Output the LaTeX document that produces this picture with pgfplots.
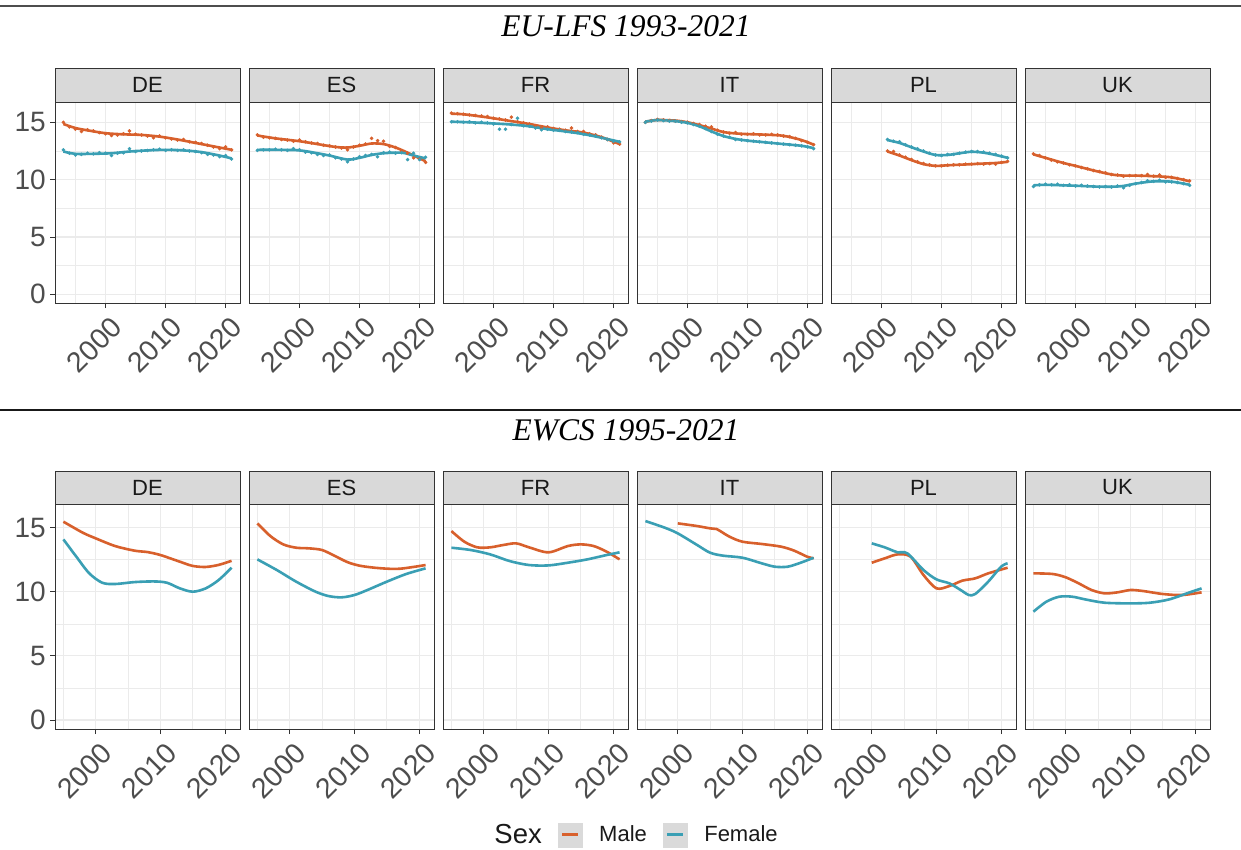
\documentclass[border=0pt]{standalone}
\usepackage{pgfplots}
\pgfplotsset{compat=1.18}
\usepackage{fontspec}
\setmainfont{Liberation Sans}
\newfontfamily\titlefont{Liberation Serif}

\definecolor{male}{HTML}{D8602C}
\definecolor{female}{HTML}{3A9FB4}
\definecolor{grid92}{HTML}{EBEBEB}
\definecolor{grey20}{HTML}{333333}
\definecolor{grey30}{HTML}{4D4D4D}
\definecolor{stripbg}{HTML}{D9D9D9}
\definecolor{keybg}{HTML}{DADADA}

\pgfplotsset{
  facet/.style={
    scale only axis, width=185pt, anchor=north west,
    axis background/.style={fill=white},
    axis line style={draw=grey20, line width=0.9pt},
    xmajorgrids, ymajorgrids, xminorgrids, yminorgrids,
    major grid style={draw=grid92, line width=1.1pt},
    minor grid style={draw=grid92, line width=0.6pt},
    xtick={2000,2010,2020}, xticklabels={2000,2010,2020},
    minor xtick={1995,2005,2015},
    ytick={0,5,10,15}, minor ytick={2.5,7.5,12.5},
    tick align=outside, tick pos=left,
    major tick length=5pt, minor tick length=0pt,
    tick style={draw=grey20, line width=0.9pt},
    xticklabel style={rotate=45, anchor=north east, inner sep=0pt,
      xshift=-2pt, yshift=-8pt, font=\fontsize{28.5}{28.5}\selectfont, text=grey30},
    yticklabel style={inner sep=0pt, xshift=-4pt,
      font=\fontsize{28}{28}\selectfont, text=grey30},
    yticklabels={},
    ytick style={draw=none},
  },
  first/.style={yticklabels={0,5,10,15}, ytick style={draw=grey20}},
  top/.style={facet, height=201pt, xmin=1991.6, xmax=2022.4, ymin=-0.76, ymax=16.77},
  bot/.style={facet, height=225pt, xmin=1993.7, xmax=2022.3, ymin=-0.70, ymax=16.85},
  mline/.style={draw=male, line width=2.6pt, smooth, no markers, forget plot},
  fline/.style={draw=female, line width=2.6pt, smooth, no markers, forget plot},
  mdot/.style={only marks, mark=*, mark size=1.6pt, color=male, forget plot},
  fdot/.style={only marks, mark=*, mark size=1.6pt, color=female, forget plot},
}

\newcommand{\strip}[3]{%
  \draw[draw=grey20, fill=stripbg, line width=0.9pt] (#1.north west) rectangle ([yshift=#3]#1.north east);
  \node[font=\fontsize{22}{22}\selectfont, text=black!90] at ([yshift=#3/2]#1.north) {#2};
}

\begin{document}
\begin{tikzpicture}
\useasboundingbox (0pt,0pt) rectangle (1241pt,-850pt);

\draw[draw=grey30, line width=2pt] (0pt,-6pt) -- (1241pt,-6pt);
\node[font=\titlefont\itshape\fontsize{31.5}{31.5}\selectfont, anchor=base] at (626pt,-37pt) {EU-LFS 1993-2021};
\draw[draw=black!90, line width=1.4pt] (0pt,-410pt) -- (1241pt,-410pt);
\node[font=\titlefont\itshape\fontsize{31.5}{31.5}\selectfont, anchor=base] at (626pt,-440pt) {EWCS 1995-2021};

% ---------------- EU-LFS ----------------
\begin{axis}[top, first, name=tDE, at={(55pt,-102pt)}]
\addplot[mdot] coordinates {(1993,15.0)(1994,14.6)(1995,14.4)(1996,14.2)(1997,14.35)(1998,14.25)(1999,14.1)(2000,14.0)(2001,13.85)(2002,13.9)(2003,14.0)(2004,14.25)(2005,13.95)(2006,13.9)(2007,13.8)(2008,13.65)(2009,13.8)(2010,13.65)(2011,13.55)(2012,13.45)(2013,13.5)(2014,13.3)(2015,13.25)(2016,13.15)(2017,13.0)(2018,12.85)(2019,12.7)(2020,12.85)(2021,12.6)};
\addplot[fdot] coordinates {(1993,12.6)(1994,12.3)(1995,12.15)(1996,12.2)(1997,12.3)(1998,12.25)(1999,12.35)(2000,12.3)(2001,12.1)(2002,12.3)(2003,12.35)(2004,12.7)(2005,12.45)(2006,12.5)(2007,12.55)(2008,12.6)(2009,12.65)(2010,12.55)(2011,12.6)(2012,12.55)(2013,12.6)(2014,12.5)(2015,12.45)(2016,12.35)(2017,12.2)(2018,12.15)(2019,12.0)(2020,12.1)(2021,11.8)};
\addplot[mline] coordinates {(1993,14.85)(1995,14.5)(1997,14.3)(2000,14.05)(2003,13.95)(2006,13.9)(2009,13.75)(2012,13.5)(2015,13.2)(2018,12.9)(2021,12.6)};
\addplot[fline] coordinates {(1993,12.45)(1995,12.25)(1998,12.25)(2001,12.3)(2004,12.45)(2007,12.55)(2010,12.6)(2013,12.55)(2016,12.4)(2019,12.1)(2021,11.85)};
\end{axis}

\begin{axis}[top, name=tES, at={(249pt,-102pt)}]
\addplot[mdot] coordinates {(1993,13.9)(1994,13.7)(1995,13.65)(1996,13.6)(1997,13.5)(1998,13.45)(1999,13.35)(2000,13.45)(2001,13.3)(2002,13.2)(2003,13.15)(2004,13.0)(2005,12.95)(2006,12.85)(2007,12.75)(2008,12.6)(2009,12.85)(2010,13.0)(2011,13.1)(2012,13.6)(2013,13.4)(2014,13.35)(2015,12.9)(2016,12.8)(2017,12.5)(2018,12.3)(2019,11.9)(2020,11.8)(2021,11.5)};
\addplot[fdot] coordinates {(1993,12.55)(1994,12.6)(1995,12.6)(1996,12.65)(1997,12.6)(1998,12.55)(1999,12.7)(2000,12.6)(2001,12.4)(2002,12.35)(2003,12.2)(2004,12.1)(2005,12.15)(2006,11.9)(2007,11.8)(2008,11.55)(2009,11.8)(2010,12.0)(2011,12.1)(2012,12.2)(2013,12.0)(2014,12.35)(2015,12.4)(2016,12.3)(2017,12.35)(2018,11.75)(2019,12.3)(2020,11.75)(2021,11.95)};
\addplot[mline] coordinates {(1993,13.85)(1996,13.6)(2000,13.35)(2003,13.1)(2006,12.85)(2008,12.8)(2010,12.95)(2012,13.15)(2014,13.1)(2016,12.8)(2018,12.35)(2021,11.6)};
\addplot[fline] coordinates {(1993,12.6)(1996,12.6)(2000,12.55)(2003,12.3)(2005,12.1)(2008,11.75)(2010,11.9)(2012,12.15)(2014,12.3)(2017,12.35)(2019,12.1)(2021,11.85)};
\end{axis}

\begin{axis}[top, name=tFR, at={(443pt,-102pt)}]
\addplot[mdot] coordinates {(1993,15.8)(1994,15.75)(1995,15.7)(1996,15.65)(1997,15.6)(1998,15.55)(1999,15.5)(2000,15.35)(2001,15.3)(2002,15.2)(2003,15.45)(2004,15.05)(2005,14.95)(2006,14.85)(2007,14.7)(2008,14.5)(2009,14.6)(2010,14.45)(2011,14.4)(2012,14.3)(2013,14.5)(2014,14.2)(2015,14.2)(2016,14.0)(2017,13.9)(2018,13.7)(2019,13.5)(2020,13.2)(2021,13.1)};
\addplot[fdot] coordinates {(1993,15.05)(1994,15.05)(1995,15.0)(1996,15.05)(1997,14.95)(1998,15.0)(1999,14.95)(2000,14.85)(2001,14.4)(2002,14.4)(2003,14.8)(2004,15.35)(2005,14.7)(2006,14.65)(2007,14.5)(2008,14.35)(2009,14.4)(2010,14.3)(2011,14.3)(2012,14.2)(2013,14.15)(2014,14.1)(2015,13.95)(2016,13.9)(2017,13.8)(2018,13.65)(2019,13.5)(2020,13.35)(2021,13.3)};
\addplot[mline] coordinates {(1993,15.75)(1995,15.7)(1998,15.5)(2000,15.35)(2003,15.1)(2006,14.85)(2009,14.55)(2012,14.3)(2015,14.1)(2018,13.7)(2021,13.1)};
\addplot[fline] coordinates {(1993,15.05)(1996,15.0)(2000,14.9)(2003,14.8)(2006,14.65)(2009,14.4)(2012,14.2)(2015,13.97)(2018,13.65)(2021,13.3)};
\end{axis}

\begin{axis}[top, name=tIT, at={(637pt,-102pt)}]
\addplot[mdot] coordinates {(1993,15.0)(1994,15.15)(1995,15.25)(1996,15.2)(1997,15.15)(1998,15.1)(1999,15.05)(2000,15.0)(2001,14.9)(2002,14.8)(2003,14.65)(2004,14.6)(2005,14.3)(2006,14.15)(2007,14.05)(2008,14.1)(2009,13.95)(2010,13.95)(2011,14.0)(2012,13.9)(2013,13.9)(2014,13.95)(2015,13.9)(2016,13.8)(2017,13.75)(2018,13.6)(2019,13.4)(2020,13.25)(2021,13.05)};
\addplot[fdot] coordinates {(1993,15.0)(1994,15.1)(1995,15.2)(1996,15.15)(1997,15.1)(1998,15.1)(1999,15.0)(2000,14.95)(2001,14.8)(2002,14.65)(2003,14.45)(2004,14.2)(2005,13.95)(2006,13.8)(2007,13.7)(2008,13.5)(2009,13.45)(2010,13.4)(2011,13.35)(2012,13.3)(2013,13.25)(2014,13.2)(2015,13.15)(2016,13.1)(2017,13.05)(2018,13.0)(2019,12.95)(2020,12.85)(2021,12.7)};
\addplot[mline] coordinates {(1993,15.05)(1995,15.2)(1998,15.15)(2000,15.0)(2002,14.75)(2004,14.45)(2006,14.15)(2008,14.03)(2010,13.97)(2013,13.92)(2016,13.82)(2019,13.45)(2021,13.05)};
\addplot[fline] coordinates {(1993,15.05)(1995,15.2)(1998,15.1)(2000,14.95)(2002,14.65)(2004,14.2)(2006,13.8)(2008,13.55)(2010,13.4)(2013,13.25)(2016,13.1)(2019,12.95)(2021,12.75)};
\end{axis}

\begin{axis}[top, name=tPL, at={(831pt,-102pt)}]
\addplot[mdot] coordinates {(2001,12.5)(2002,12.45)(2003,12.15)(2004,11.95)(2005,11.75)(2006,11.55)(2007,11.4)(2008,11.3)(2009,11.2)(2010,11.2)(2011,11.25)(2012,11.3)(2013,11.3)(2014,11.35)(2015,11.35)(2016,11.4)(2017,11.35)(2018,11.4)(2019,11.35)(2020,11.5)(2021,11.6)};
\addplot[fdot] coordinates {(2001,13.5)(2002,13.35)(2003,13.3)(2004,13.05)(2005,12.85)(2006,12.7)(2007,12.5)(2008,12.3)(2009,12.15)(2010,12.1)(2011,12.2)(2012,12.2)(2013,12.3)(2014,12.4)(2015,12.45)(2016,12.45)(2017,12.4)(2018,12.3)(2019,12.2)(2020,12.05)(2021,11.9)};
\addplot[mline] coordinates {(2001,12.45)(2003,12.1)(2005,11.7)(2007,11.35)(2009,11.2)(2011,11.25)(2013,11.3)(2015,11.35)(2017,11.4)(2019,11.45)(2021,11.55)};
\addplot[fline] coordinates {(2001,13.45)(2003,13.2)(2005,12.82)(2007,12.45)(2009,12.15)(2011,12.15)(2013,12.3)(2015,12.43)(2017,12.35)(2019,12.15)(2021,11.9)};
\end{axis}

\begin{axis}[top, name=tUK, at={(1025pt,-102pt)}]
\addplot[mdot] coordinates {(1993,12.25)(1994,12.1)(1995,11.9)(1996,11.7)(1997,11.55)(1998,11.45)(1999,11.3)(2000,11.2)(2001,11.05)(2002,10.95)(2003,10.8)(2004,10.7)(2005,10.6)(2006,10.45)(2007,10.4)(2008,10.3)(2009,10.35)(2010,10.35)(2011,10.35)(2012,10.45)(2013,10.3)(2014,10.4)(2015,10.2)(2016,10.2)(2017,10.1)(2018,10.0)(2019,9.9)};
\addplot[fdot] coordinates {(1993,9.4)(1994,9.55)(1995,9.6)(1996,9.55)(1997,9.6)(1998,9.5)(1999,9.55)(2000,9.45)(2001,9.5)(2002,9.45)(2003,9.4)(2004,9.35)(2005,9.4)(2006,9.35)(2007,9.45)(2008,9.3)(2009,9.5)(2010,9.65)(2011,9.75)(2012,9.9)(2013,9.85)(2014,9.95)(2015,9.8)(2016,9.8)(2017,9.75)(2018,9.65)(2019,9.5)};
\addplot[mline] coordinates {(1993,12.2)(1995,11.9)(1998,11.45)(2000,11.2)(2003,10.8)(2006,10.45)(2008,10.35)(2010,10.35)(2013,10.3)(2016,10.2)(2019,9.85)};
\addplot[fline] coordinates {(1993,9.5)(1995,9.55)(1998,9.5)(2000,9.47)(2003,9.4)(2006,9.38)(2008,9.45)(2010,9.65)(2013,9.85)(2016,9.82)(2019,9.55)};
\end{axis}

% ---------------- EWCS ----------------
\begin{axis}[bot, first, name=bDE, at={(55pt,-504pt)}]
\addplot[mline] coordinates {(1995,15.47)(1998,14.61)(2000,14.17)(2003,13.57)(2006,13.21)(2008,13.1)(2010,12.87)(2013,12.35)(2015,12.02)(2017,11.94)(2019,12.1)(2021,12.42)};
\addplot[fline] coordinates {(1995,14.09)(1997,12.74)(1999,11.44)(2001,10.71)(2003,10.61)(2006,10.76)(2009,10.81)(2011,10.71)(2013,10.27)(2015,10.01)(2017,10.27)(2019,10.92)(2021,11.88)};
\end{axis}

\begin{axis}[bot, name=bES, at={(249pt,-504pt)}]
\addplot[mline] coordinates {(1995,15.34)(1997,14.35)(1999,13.7)(2001,13.44)(2003,13.39)(2005,13.26)(2007,12.79)(2009,12.3)(2011,12.02)(2014,11.84)(2017,11.8)(2021,12.09)};
\addplot[fline] coordinates {(1995,12.53)(1998,11.7)(2001,10.79)(2004,10.01)(2006,9.67)(2008,9.57)(2010,9.75)(2012,10.14)(2015,10.79)(2018,11.39)(2021,11.83)};
\end{axis}

\begin{axis}[bot, name=bFR, at={(443pt,-504pt)},
  legend style={at={(1.003,-0.470)}, anchor=center, draw=none, fill=none,
    legend columns=3, font=\fontsize{22}{22}\selectfont, text=black!90,
    nodes={inner sep=2pt},
    /tikz/every odd column/.append style={column sep=15pt},
    /tikz/every even column/.append style={column sep=14pt}},
  legend cell align=left]
\addplot[mline] coordinates {(1995,14.74)(1997,13.91)(1999,13.47)(2001,13.47)(2003,13.65)(2005,13.78)(2007,13.47)(2010,13.08)(2013,13.57)(2015,13.7)(2017,13.57)(2019,13.13)(2021,12.53)};
\addplot[fline] coordinates {(1995,13.44)(1998,13.26)(2001,12.92)(2004,12.4)(2007,12.09)(2010,12.06)(2013,12.27)(2016,12.53)(2019,12.87)(2021,13.08)};
\addlegendimage{empty legend}
\addlegendentry{\fontsize{27.5}{27.5}\selectfont Sex}
\addlegendimage{legend image code/.code={\fill[keybg] (0pt,-12pt) rectangle (24pt,12pt); \draw[male, line width=2.6pt] (4pt,0pt) -- (20pt,0pt);}}
\addlegendentry{Male}
\addlegendimage{legend image code/.code={\fill[keybg] (0pt,-12pt) rectangle (24pt,12pt); \draw[female, line width=2.6pt] (4pt,0pt) -- (20pt,0pt);}}
\addlegendentry{Female}
\end{axis}

\begin{axis}[bot, name=bIT, at={(637pt,-504pt)}]
\addplot[mline] coordinates {(2000,15.34)(2003,15.13)(2005,14.95)(2006,14.9)(2008,14.3)(2010,13.91)(2013,13.73)(2016,13.52)(2018,13.21)(2020,12.74)(2021,12.61)};
\addplot[fline] coordinates {(1995,15.52)(1998,15.0)(2000,14.56)(2003,13.65)(2005,13.05)(2007,12.82)(2010,12.66)(2013,12.22)(2015,11.96)(2017,11.96)(2019,12.27)(2021,12.66)};
\end{axis}

\begin{axis}[bot, name=bPL, at={(831pt,-504pt)}]
\addplot[mline] coordinates {(2000,12.27)(2002,12.61)(2004,12.92)(2006,12.74)(2008,11.31)(2010,10.27)(2012,10.45)(2014,10.87)(2016,11.05)(2018,11.44)(2021,11.88)};
\addplot[fline] coordinates {(2000,13.78)(2002,13.47)(2004,13.08)(2005.5,13.0)(2008,11.7)(2010,10.97)(2012,10.66)(2014,10.06)(2015,9.75)(2016,9.83)(2018,10.79)(2020,11.96)(2021,12.22)};
\end{axis}

\begin{axis}[bot, name=bUK, at={(1025pt,-504pt)}]
\addplot[mline] coordinates {(1995,11.44)(1998,11.39)(2000,11.13)(2002,10.66)(2004,10.14)(2006,9.88)(2008,9.96)(2010,10.14)(2012,10.06)(2015,9.83)(2018,9.75)(2021,9.96)};
\addplot[fline] coordinates {(1995,8.45)(1997,9.23)(1999,9.62)(2001,9.62)(2003,9.41)(2006,9.15)(2010,9.1)(2013,9.15)(2016,9.41)(2019,9.93)(2021,10.27)};
\end{axis}

\strip{tDE}{DE}{34pt}\strip{tES}{ES}{34pt}\strip{tFR}{FR}{34pt}
\strip{tIT}{IT}{34pt}\strip{tPL}{PL}{34pt}\strip{tUK}{UK}{34pt}
\strip{bDE}{DE}{33pt}\strip{bES}{ES}{33pt}\strip{bFR}{FR}{33pt}
\strip{bIT}{IT}{33pt}\strip{bPL}{PL}{33pt}\strip{bUK}{UK}{33pt}
\end{tikzpicture}
\end{document}
